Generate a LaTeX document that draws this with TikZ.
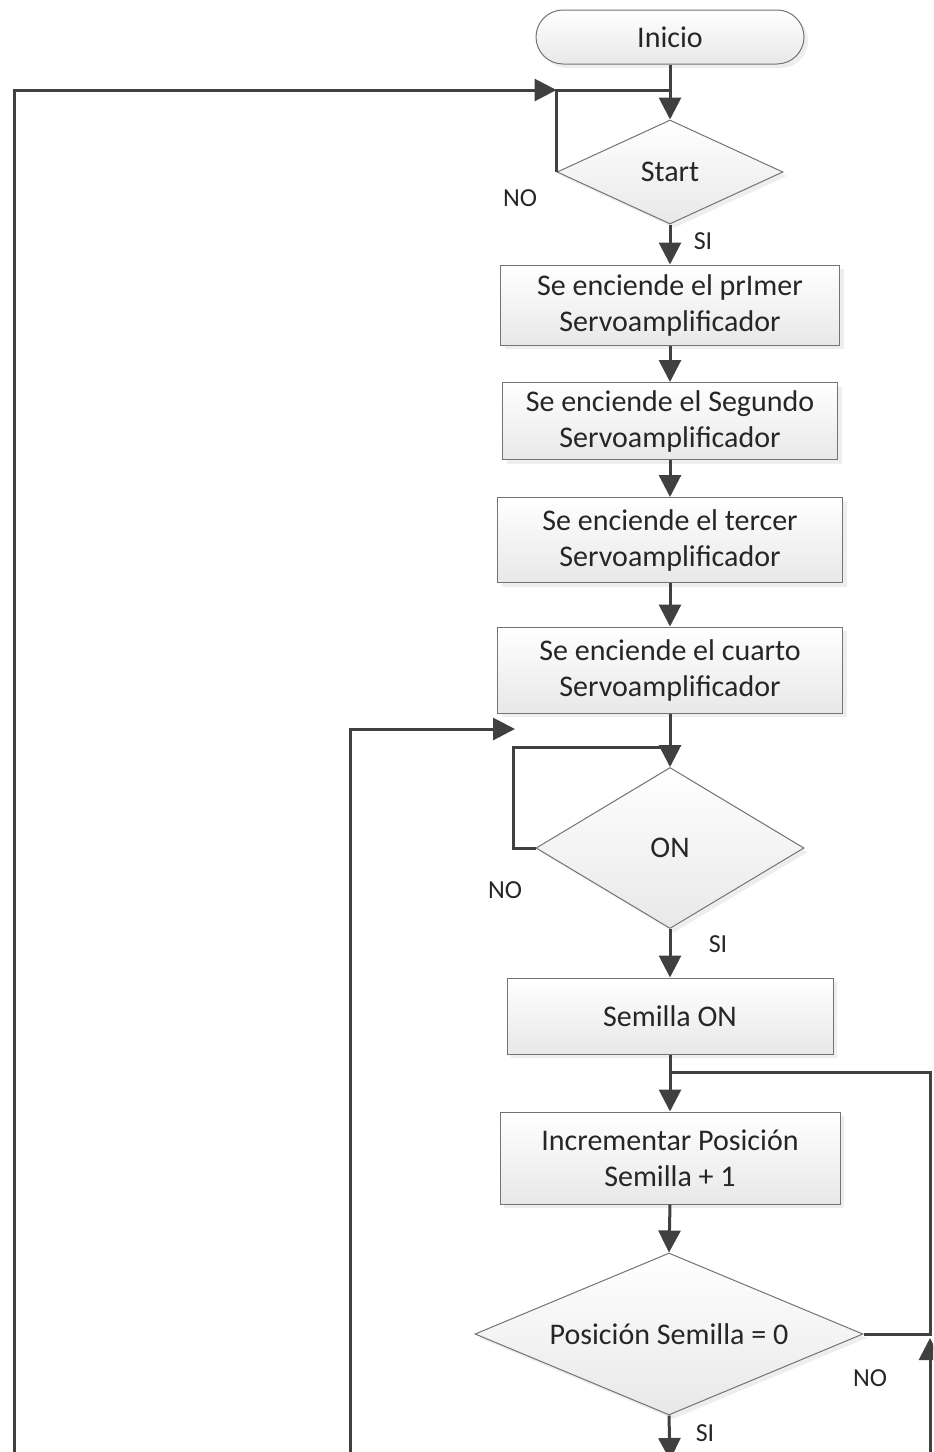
\documentclass[tikz,border=0pt]{standalone}
\usepackage{fontspec}
\setmainfont{Carlito}
\usetikzlibrary{arrows.meta,shapes.geometric,shadows}

\begin{document}
\begin{tikzpicture}[x=.5pt,y=-.5pt,font=\fontsize{15}{18}\selectfont,
 box/.style={draw=black!55,line width=.5pt,top color=white,bottom color=black!9,
             drop shadow={shadow xshift=2pt,shadow yshift=-2pt,fill=black!13},
             text=black!85,align=center,inner sep=1pt},
 process/.style={box,rectangle},
 terminal/.style={box,rectangle,rounded corners=13.5pt},
 decision/.style={box,diamond,aspect=2.4,inner sep=0pt},
 wire/.style={draw=black!75,line width=1.5pt},
 flow/.style={wire,-{Triangle[length=11pt,width=11pt]}},
 answer/.style={font=\fontsize{13}{15}\selectfont,text=black!85}]
 \useasboundingbox (0,0) rectangle (933,1452);
 \clip (0,0) rectangle (933,1452);
 \node[terminal,minimum width=134pt,minimum height=27pt] (Inicio) at (670,37) {Inicio};
 \node[decision,minimum width=113pt,minimum height=52pt] (Start) at (670,172) {Start};
 \foreach \n/\y/\w/\h/\t in {1/305/169.5/40/prImer,2/421/167.5/38.5/Segundo,
                             3/540/172.5/42.5/tercer,4/670/172.5/43/cuarto}
   \node[process,minimum width=\w pt,minimum height=\h pt] (S\n) at (670,\y)
     {Se enciende el \t\\Servoamplificador};
 \node[decision,minimum width=134pt,minimum height=80.5pt] (ON) at (670,848) {ON};
 \node[process,minimum width=163pt,minimum height=38pt] (Semilla) at (670,1016) {Semilla ON};
 \node[process,minimum width=170pt,minimum height=46pt] (Incr) at (670,1158)
   {Incrementar Posición\\Semilla + 1};
 \node[decision,minimum width=194pt,minimum height=81pt] (Pos) at (669,1334)
   {Posición Semilla = 0};
 % main chain
 \foreach \a/\b in {Inicio/Start,Start/S1,S1/S2,S2/S3,S3/S4,S4/ON,ON/Semilla,
                    Semilla/Incr,Incr/Pos}
   \draw[flow] (\a.south) -- (\b.north);
 % junctions and loose ends
 \coordinate (topjoin) at (670,90);
 \coordinate (onjoin) at (670,747);
 \coordinate (incjoin) at (670,1072);
 \coordinate (rightcorner) at (930,1072);
 \coordinate (leftfoot) at (14,1460);
 \coordinate (midfoot) at (350,1460);
 \coordinate (midend) at (515,729);
 \coordinate (rightfoot) at (930,1460);
 \coordinate (rightend) at (930,1338);
 \coordinate (posfoot) at (670,1460);
 % loops
 \draw[wire] (Start.west) -- (Start.west |- topjoin) -- (topjoin);
 \draw[flow] (leftfoot) |- (Start.west |- topjoin);
 \draw[wire] (ON.west) -- ++(-22,0) |- (onjoin);
 \draw[flow] (midfoot) |- (midend);
 \draw[wire] (Pos.east) -| (rightcorner) -- (incjoin);
 \draw[flow] (rightfoot) -- (rightend);
 \draw[flow] (Pos.south) -- (posfoot);
 % answers
 \node[answer] (no1) at (520,198) {NO};
 \node[answer] (si1) at (703,241) {SI};
 \node[answer] (no2) at (505,890) {NO};
 \node[answer] (si2) at (718,944) {SI};
 \node[answer] (no3) at (870,1378) {NO};
 \node[answer] (si3) at (705,1433) {SI};
\end{tikzpicture}
\end{document}
